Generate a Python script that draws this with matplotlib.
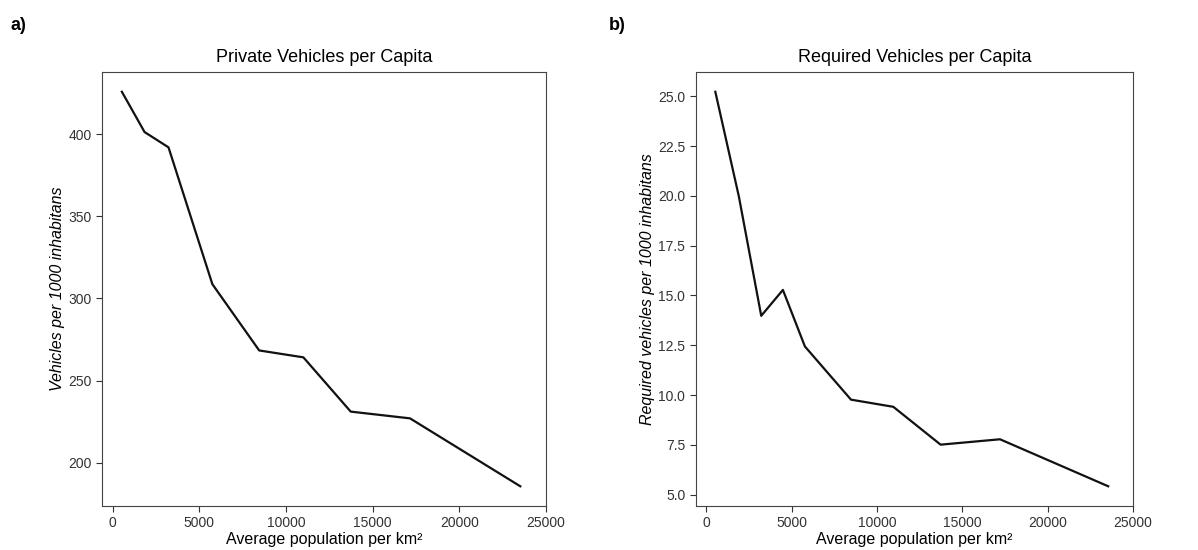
import matplotlib.pyplot as plt
import numpy as np

plt.rcParams['font.family'] = ['Liberation Sans', 'DejaVu Sans']

# private vehicles per 1000 inhabitants
dens_a = [540, 1850, 3230, 5760, 8460, 11010, 13740, 17160, 23520]
veh_a = [425.7, 401.2, 391.9, 308.7, 268.4, 264.2, 231.2, 227.1, 185.8]

# required vehicles per 1000 inhabitants
dens_b = [530, 1910, 3220, 4490, 5780, 8480, 10960, 13730, 17210, 23550]
veh_b = [25.23, 19.97, 13.98, 15.28, 12.44, 9.77, 9.41, 7.51, 7.78, 5.42]

fig = plt.figure(figsize=(11.98, 5.5), dpi=100)
ax1 = fig.add_axes([0.0851, 0.08, 0.3706, 0.789])
ax2 = fig.add_axes([0.5807, 0.08, 0.365, 0.789])

panels = [
    (ax1, dens_a, veh_a, 'Private Vehicles per Capita', 'Vehicles per 1000 inhabitans'),
    (ax2, dens_b, veh_b, 'Required Vehicles per Capita', 'Required vehicles per 1000 inhabitans'),
]

for ax, x, y, title, ylab in panels:
    ax.plot(x, y, color='#111111', lw=1.6)
    ax.set_xlim(right=25000)
    ax.set_title(title, fontsize=13, pad=7)
    ax.set_xlabel('Average population per km²', fontsize=11.5, labelpad=1)
    ax.set_ylabel(ylab, fontsize=11.5, style='italic', labelpad=2)
    ax.tick_params(labelsize=10, colors='#333333', length=4)
    for s in ax.spines.values():
        s.set_color('#444444')

ax1.set_xticks([0, 5000, 10000, 15000, 20000, 25000])
ax2.set_xticks([0, 5000, 10000, 15000, 20000, 25000])

fig.text(0.009, 0.945, 'a)', fontsize=13, fontweight='bold')
fig.text(0.508, 0.945, 'b)', fontsize=13, fontweight='bold')

fig.savefig('out.png', dpi=100)
